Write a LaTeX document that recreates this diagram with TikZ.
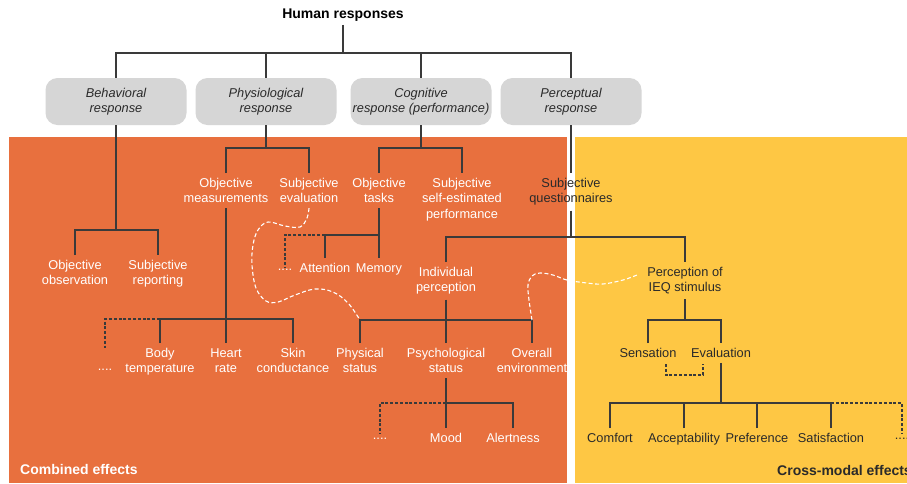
\documentclass[tikz,border=0pt]{standalone}
\usepackage{fontspec}
\setmainfont{Liberation Sans}
\definecolor{bgorange}{HTML}{E8703E}
\definecolor{bgyellow}{HTML}{FEC744}
\definecolor{boxgray}{HTML}{D6D6D6}
\definecolor{linedark}{HTML}{3A3A3A}
\definecolor{txtdark}{HTML}{2A2A2A}
\newcommand\lblfont{\fontsize{12.8}{15.3}\selectfont}
\newcommand\bigfont{\fontsize{14}{16}\selectfont\bfseries}
\begin{document}
\begin{tikzpicture}[x=1pt,y=-1pt,
  lbl/.style={font=\lblfont, text=white, align=center, inner xsep=0pt, inner ysep=5pt, anchor=north},
  dlbl/.style={lbl, text=txtdark},
  dotlbl/.style={font=\lblfont, text=white, inner sep=0pt},
  ddotlbl/.style={dotlbl, text=txtdark},
  rbox/.style={rounded corners=12pt, fill=boxgray, minimum width=141pt, minimum height=47pt, font=\lblfont\itshape, text=txtdark, align=center, inner sep=0pt},
  conn/.style={draw=linedark, line width=1.2pt},
  dconn/.style={draw=linedark, line width=1.1pt, dash pattern=on 3pt off 1.8pt},
  wcurve/.style={draw=white, line width=1.1pt, dash pattern=on 4pt off 2.5pt}
]
\clip (0,0) rectangle (907,483);
\fill[white] (0,0) rectangle (907,483);
\fill[bgorange] (9,137) rectangle (567,483);
\fill[bgyellow] (575,137) rectangle (907,483);

% title and top boxes
\node[font=\bigfont, text=black] (title) at (343,15) {Human responses};
\node[rbox] (beh) at (116,101.5) {Behavioral\\response};
\node[rbox] (phy) at (266,101.5) {Physiological\\response};
\node[rbox] (cog) at (421,101.5) {Cognitive\\response (performance)};
\node[rbox] (per) at (571,101.5) {Perceptual\\response};

\coordinate (tj) at (343,53);
\draw[conn] (title.south) -- (tj);
\draw[conn] (beh.north) |- (tj) -| (per.north);
\draw[conn] (phy.north) -- (phy.north |- tj);
\draw[conn] (cog.north) -- (cog.north |- tj);

% behavioral
\node[lbl] (oo) at (75,255) {Objective\\observation};
\node[lbl] (sr) at (158,255) {Subjective\\reporting};
\coordinate (bj) at (116,230);
\draw[conn] (beh.south) -- (bj);
\draw[conn] (oo.north) |- (bj) -| (sr.north);

% physiological
\node[lbl] (om) at (226,173) {Objective\\measurements};
\node[lbl] (se) at (309,173) {Subjective\\evaluation};
\coordinate (pj) at (266,148);
\draw[conn] (phy.south) -- (pj);
\draw[conn] (om.north) |- (pj) -| (se.north);

% cognitive
\node[lbl] (ot) at (379,173) {Objective\\tasks};
\node[lbl] (ss) at (462,173) {Subjective\\self-estimated\\performance};
\coordinate (cj) at (421,148);
\draw[conn] (cog.south) -- (cj);
\draw[conn] (ot.north) |- (cj) -| (ss.north);

% perceptual
\node[dlbl] (sq) at (571,173) {Subjective\\questionnaires};
\draw[conn] (per.south) -- (sq.north);
\node[lbl] (ip) at (446,262) {Individual\\perception};
\node[dlbl] (pie) at (685,262) {Perception of\\IEQ stimulus};
\coordinate (qj) at (571,237);
\draw[conn] (sq.south) -- (qj);
\draw[conn] (ip.north) |- (qj) -| (pie.north);

% objective measurements
\node[lbl] (bt) at (160,343) {Body\\temperature};
\node[lbl] (hr) at (226,343) {Heart\\rate};
\node[lbl] (sc) at (293,343) {Skin\\conductance};
\node[dotlbl] (d1) at (105,370) {....};
\coordinate (omj) at (226,319);
\draw[conn] (om.south) -- (hr.north);
\draw[conn] (bt.north) |- (omj) -| (sc.north);
\draw[dconn, shorten >=21pt] (bt.north |- omj) -| (d1.north);

% objective tasks
\node[lbl] (att) at (325,258) {Attention};
\node[lbl] (mem) at (379,258) {Memory};
\node[dotlbl] (d2) at (285,270) {....};
\coordinate (otj) at (379,235);
\draw[conn] (ot.south) -- (mem.north);
\draw[conn] (att.north) |- (otj);
\draw[dconn, shorten >=2pt] (att.north |- otj) -| (d2.north);

% individual perception
\node[lbl] (ps) at (360,343) {Physical\\status};
\node[lbl] (pst) at (446,343) {Psychological\\status};
\node[lbl] (oe) at (532,343) {Overall\\environment};
\coordinate (ipj) at (446,320);
\draw[conn] (ip.south) -- (pst.north);
\draw[conn] (ps.north) |- (ipj) -| (oe.north);

% psychological status
\node[lbl] (mood) at (446,428) {Mood};
\node[lbl] (alert) at (513,428) {Alertness};
\node[dotlbl] (d3) at (380,439) {....};
\coordinate (psj) at (446,403);
\draw[conn] (pst.south) -- (mood.north);
\draw[conn] (psj) -| (alert.north);
\draw[dconn, shorten >=5pt] (psj) -| (d3.north);

% perception of IEQ stimulus
\node[dlbl] (sen) at (648,343) {Sensation};
\node[dlbl] (ev) at (721,343) {Evaluation};
\coordinate (pqj) at (685,320);
\draw[conn] (pie.south) -- (pqj);
\draw[conn] (sen.north) |- (pqj) -| (ev.north);
\coordinate (br1) at (666,364);
\coordinate (br2) at (703,364);
\draw[dconn] (br1) -- ++(0,11) -| (br2);

% evaluation
\node[dlbl] (cf) at (610,428) {Comfort};
\node[dlbl] (ac) at (684,428) {Acceptability};
\node[dlbl] (pr) at (757,428) {Preference};
\node[dlbl] (sa) at (831,428) {Satisfaction};
\node[ddotlbl] (d4) at (902,439) {....};
\coordinate (evj) at (721,403);
\draw[conn] (ev.south) -- (evj);
\draw[conn] (cf.north) |- (evj) -| (sa.north);
\draw[conn] (ac.north) -- (ac.north |- evj);
\draw[conn] (pr.north) -- (pr.north |- evj);
\draw[dconn, shorten >=5pt] (sa.north |- evj) -| (d4.north);

% white dashed curves
\draw[wcurve] plot[smooth, tension=0.6] coordinates {(se.south) (307,218) (300,227) (285,226) (268,222) (258,230) (253,245) (252,265) (256,288) (266,301) (278,302) (295,295) (315,289) (333,292) (348,303) (ps.north |- ipj)};
\coordinate (ce) at (637,275);
\draw[wcurve] plot[smooth, tension=0.6] coordinates {(oe.north |- ipj) (529,300) (528,285) (532,276) (540,273) (553,275) (567,280) (587,283) (603,284) (623,280) (ce)};

% region captions
\node[font=\bigfont, text=white, anchor=west, inner sep=0pt] (cap1) at (20,469) {Combined effects};
\node[font=\bigfont, text=txtdark, anchor=west, inner sep=0pt] (cap2) at (777,470) {Cross-modal effects};
\end{tikzpicture}
\end{document}
